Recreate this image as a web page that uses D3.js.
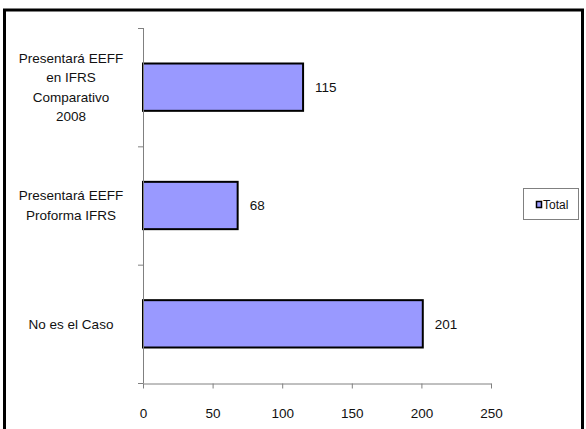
<!DOCTYPE html>
<html>
<head>
<meta charset="utf-8">
<script src="https://cdn.jsdelivr.net/npm/d3@7/dist/d3.min.js"></script>
<style>
  html, body { margin: 0; padding: 0; background: #fff; }
  svg { display: block; }
  text { font-family: "Liberation Sans", Arial, sans-serif; fill: #111; }
</style>
</head>
<body>
<svg id="chart" width="586" height="429"></svg>
<script>
// Categories top to bottom, each given as its wrapped label lines
const categories = [
  ["Presentará EEFF", "en IFRS", "Comparativo", "2008"],
  ["Presentará EEFF", "Proforma IFRS"],
  ["No es el Caso"]
];
const totals = [115, 68, 201];
const xTicks = [0, 50, 100, 150, 200, 250];
const seriesName = "Total";

const svg = d3.select("#chart");
const barFill = "#9999ff";
const fontSize = 13.5;

// Outer chart frame (bottom edge runs off the canvas)
svg.append("rect")
  .attr("x", 4.5).attr("y", 10).attr("width", 578).attr("height", 440)
  .attr("fill", "none").attr("stroke", "#000").attr("stroke-width", 3);

const plot = { left: 143, right: 491, top: 28, bottom: 383 };

const x = d3.scaleLinear().domain([0, 250]).range([plot.left, plot.right]);
const y = d3.scaleBand()
  .domain(d3.range(categories.length))
  .range([plot.top, plot.bottom])
  .paddingInner(0.6).paddingOuter(0.3);
const band = d3.scaleBand()
  .domain(d3.range(categories.length))
  .range([plot.top, plot.bottom]);

// Bars
svg.append("g").selectAll("rect")
  .data(totals)
  .join("rect")
  .attr("x", x(0))
  .attr("y", (d, i) => y(i))
  .attr("width", d => x(d) - x(0))
  .attr("height", y.bandwidth())
  .attr("fill", barFill)
  .attr("stroke", "#000")
  .attr("stroke-width", 2);

// Value labels
svg.append("g").selectAll("text")
  .data(totals)
  .join("text")
  .attr("x", d => x(d) + 12)
  .attr("y", (d, i) => y(i) + y.bandwidth() / 2)
  .attr("dy", "0.35em")
  .attr("font-size", fontSize)
  .text(d => d);

// Category axis
const yAxis = svg.append("g");
yAxis.append("line")
  .attr("x1", plot.left + 0.5).attr("x2", plot.left + 0.5)
  .attr("y1", plot.top).attr("y2", plot.bottom)
  .attr("stroke", "#808080");
yAxis.selectAll("line.tick")
  .data(d3.range(categories.length + 1))
  .join("line")
  .attr("class", "tick")
  .attr("x1", plot.left - 5).attr("x2", plot.left + 0.5)
  .attr("y1", i => i < categories.length ? band(i) + 0.5 : plot.bottom + 0.5)
  .attr("y2", i => i < categories.length ? band(i) + 0.5 : plot.bottom + 0.5)
  .attr("stroke", "#808080");

const lineH = 19.5;
categories.forEach((lines, i) => {
  const cy = y(i) + y.bandwidth() / 2;
  const t = yAxis.append("text")
    .attr("text-anchor", "middle")
    .attr("font-size", fontSize);
  lines.forEach((ln, k) => {
    t.append("tspan")
      .attr("x", 71)
      .attr("y", cy + (k - (lines.length - 1) / 2) * lineH)
      .attr("dy", "0.35em")
      .text(ln);
  });
});

// Value axis
const xAxis = svg.append("g")
  .attr("transform", `translate(0,${plot.bottom + 0.5})`)
  .call(d3.axisBottom(x).tickValues(xTicks).tickSize(5).tickSizeOuter(0).tickPadding(20));
xAxis.select(".domain").attr("stroke", "#808080");
xAxis.selectAll(".tick line").attr("stroke", "#808080");
xAxis.selectAll(".tick text")
  .attr("font-size", fontSize)
  .attr("font-family", "'Liberation Sans', Arial, sans-serif")
  .attr("fill", "#111");

// Legend
const legend = svg.append("g");
legend.append("rect")
  .attr("x", 523.5).attr("y", 188.5).attr("width", 55).attr("height", 31)
  .attr("fill", "#fff").attr("stroke", "#808080");
legend.append("rect")
  .attr("x", 536.5).attr("y", 201.5).attr("width", 5).attr("height", 6)
  .attr("fill", barFill).attr("stroke", "#000").attr("stroke-width", 1.5);
legend.append("text")
  .attr("x", 543).attr("y", 205)
  .attr("dy", "0.35em")
  .attr("font-size", 12)
  .text(seriesName);
</script>
</body>
</html>
